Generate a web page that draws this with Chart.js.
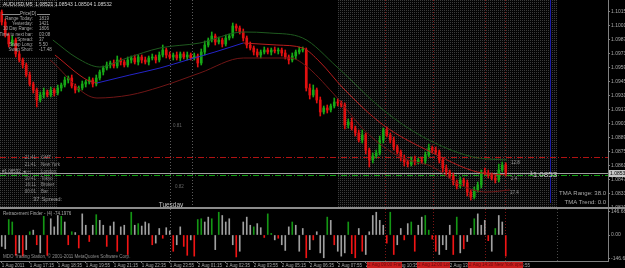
<!DOCTYPE html>
<html>
<head>
<meta charset="utf-8">
<script src="https://cdn.jsdelivr.net/npm/chart.js@4.4.1/dist/chart.umd.min.js"></script>
<style>
  html, body { margin: 0; padding: 0; background: #000; }
  #wrap { position: relative; width: 625px; height: 268px; background: #000; overflow: hidden; }
  #wrap canvas { position: absolute; left: 0; }
</style>
</head>
<body>
<div id="wrap">
  <canvas id="main" width="625" height="209" style="top:0;width:625px;height:209px"></canvas>
  <canvas id="sub" width="625" height="59" style="top:209px;width:625px;height:59px"></canvas>
</div>
<script>
// AUDUSD M5 candles (one entry per drawn bar)
const firstOpen = 1.10142;
const closes = [
  1.10042, 1.09912, 1.09822, 1.09862, 1.09722, 1.09662, 1.09612, 1.09512, 1.09422, 1.09362,
  1.09262, 1.09312, 1.09342, 1.09312, 1.09362, 1.09332, 1.09382, 1.09412, 1.09462, 1.09482,
  1.09402, 1.09362, 1.09382, 1.09422, 1.09442, 1.09462, 1.09422, 1.09482, 1.09542, 1.09582,
  1.09612, 1.09632, 1.09602, 1.09662, 1.09642, 1.09612, 1.09662, 1.09682, 1.09642, 1.09692,
  1.09662, 1.09642, 1.09682, 1.09692, 1.09662, 1.09712, 1.09762, 1.09712, 1.09692, 1.09712,
  1.09682, 1.09722, 1.09692, 1.09712, 1.09682, 1.09702, 1.09632, 1.09742, 1.09812, 1.09862,
  1.09902, 1.09842, 1.09862, 1.09822, 1.09882, 1.09902, 1.10002, 1.09982, 1.09942, 1.09882,
  1.09812, 1.09782, 1.09742, 1.09712, 1.09742, 1.09762, 1.09742, 1.09762, 1.09752, 1.09762,
  1.09732, 1.09692, 1.09662, 1.09702, 1.09742, 1.09762, 1.09762, 1.09382, 1.09312, 1.09362,
  1.09262, 1.09142, 1.09182, 1.09162, 1.09202, 1.09242, 1.09232, 1.09212, 1.09012, 1.09042,
  1.08982, 1.08932, 1.08862, 1.08912, 1.08762, 1.08662, 1.08702, 1.08732, 1.08862, 1.08962,
  1.08912, 1.08862, 1.08792, 1.08742, 1.08682, 1.08642, 1.08622, 1.08662, 1.08642, 1.08662,
  1.08652, 1.08712, 1.08782, 1.08762, 1.08742, 1.08662, 1.08582, 1.08542, 1.08502, 1.08442,
  1.08402, 1.08462, 1.08432, 1.08342, 1.08292, 1.08362, 1.08412, 1.08542, 1.08532, 1.08512,
  1.08482, 1.08462, 1.08562, 1.08612, 1.08532
];
// wick lengths in pips above / below the body
const wickUp = [
  2, 3, 2, 4, 2, 3, 2, 2, 3, 2,   2, 3, 4, 2, 3, 2, 3, 2, 3, 2,
  3, 2, 2, 3, 2, 3, 2, 3, 2, 2,   3, 2, 3, 4, 2, 2, 3, 2, 3, 2,
  2, 3, 2, 3, 2, 3, 5, 2, 3, 2,   3, 2, 2, 3, 2, 3, 2, 3, 4, 2,
  4, 2, 3, 2, 3, 2, 3, 2, 2, 3,   2, 3, 2, 3, 2, 3, 2, 2, 3, 2,
  2, 3, 2, 3, 2, 3, 3, 2, 4, 5,   2, 3, 2, 3, 2, 4, 3, 2, 2, 3,
  4, 2, 3, 5, 2, 2, 3, 3, 4, 2,   3, 2, 3, 2, 2, 3, 2, 3, 4, 2,
  3, 3, 4, 2, 3, 2, 2, 3, 2, 3,   2, 3, 2, 3, 2, 3, 3, 2, 4, 3,
  2, 3, 6, 3, 2
];
const wickDn = [
  3, 2, 3, 2, 3, 2, 3, 2, 2, 3,   7, 2, 3, 2, 2, 3, 2, 3, 2, 3,
  2, 3, 2, 2, 3, 2, 3, 2, 2, 3,   2, 3, 2, 2, 3, 2, 2, 3, 2, 3,
  3, 2, 3, 2, 3, 2, 2, 3, 2, 3,   2, 3, 2, 3, 2, 2, 4, 2, 3, 2,
  2, 3, 2, 3, 2, 2, 2, 3, 2, 3,   3, 2, 3, 2, 3, 2, 2, 3, 2, 3,
  3, 2, 4, 2, 3, 2, 2, 3, 4, 2,   3, 4, 2, 3, 2, 2, 3, 2, 4, 3,
  2, 3, 2, 3, 4, 7, 3, 2, 2, 3,   2, 3, 3, 2, 3, 4, 3, 2, 3, 2,
  2, 3, 2, 3, 2, 3, 4, 3, 2, 3,   3, 2, 3, 4, 3, 2, 2, 3, 2, 3,
  2, 3, 2, 2, 3
];

// Retracement Finder histogram, g = green, r = red, s = silver
const histVals = [
  -70, -85, 95, 80, -125, -110, -130, -90, 20, 30,
  -60, -110, 115, -125, 100, 50, 120, 115, 80, -60,
  20, 15, -80, 130, 60, -40, 60, 125, 90, 60,
  -70, 55, 80, -100, 50, 60, -120, 140, 60, 70,
  55, 80, 70, -60, -50, 40, -20, 45, 25, -100,
  -60, 50, -70, -125, -30, -130, 95, 100, 80, 110,
  100, -90, 140, 120, 80, 100, -60, -135, -100, 80,
  110, 60, 50, 70, 45, -15, 130, 10, -30, -20,
  -60, -95, 50, 80, 60, -100, 40, -140, -90, -30,
  20, -110, -140, 110, 90, -60, -100, -130, -110, 80,
  -115, -140, 40, -100, -120, 20, 120, 140, 90, 60,
  -50, 140, -120, -60, 40, -30, 70, 80, -100, 60,
  110, 120, 30, -25, -100, -120, -60, -90, 60, -120,
  110, -110, -85, -40, 40, 100, 130, 60, 90, -35,
  -100, 40, 120, 80, -130
];
const histCols =
  'ssggrsrsgs' + 'rsgrsssgsr' + 'gsrssrsgss' + 'rssrssrgsg' + 'sssrssrssr' +
  'ssrrsrggss' + 'gsgssssrss' + 'ssgssrggsr' + 'sssgsssrsr' + 'sssgsrsssg' +
  'rrsrssssss' + 'rgrssrsgrs' + 'sggrrssssr' + 'gsrssgsssr' + 'sgssr';

// TMA bands: [bar index, price]
const upperBand = [[14.6, 1.09862], [21.5, 1.09682], [28, 1.09592], [35.8, 1.09682], [45.2, 1.09782],
  [56.6, 1.09832], [69, 1.09942], [76.6, 1.09932], [86, 1.09882], [95.8, 1.09592], [109, 1.09162],
  [120.4, 1.08892], [134.6, 1.08692], [144.4, 1.08662]];
const centerDownA = [[15.2, 1.09712], [24.4, 1.09462], [27.2, 1.09432]];
const centerUp = [[27.2, 1.09432], [36.6, 1.09512], [45.2, 1.09582], [53, 1.09662], [60.9, 1.09742], [69, 1.09832]];
const centerDownB = [[69, 1.09832], [78.6, 1.09812], [86, 1.09782], [90.9, 1.09642], [97.5, 1.09382],
  [109, 1.09012], [123.2, 1.08732], [135.8, 1.08542], [144.4, 1.08512]];
const lowerBand = [[13.8, 1.09662], [27.2, 1.09282], [36.6, 1.09312], [45.2, 1.09392], [56.6, 1.09532],
  [69, 1.09682], [82.4, 1.09682], [86.6, 1.09612], [94.6, 1.09332], [104.4, 1.08932], [113.8, 1.08692],
  [123.2, 1.08592], [131, 1.08412], [138.6, 1.08342], [145.2, 1.08362]];

const priceTicks = [1.10150, 1.10010, 1.09870, 1.09730, 1.09590, 1.09450, 1.09310, 1.09170,
  1.09030, 1.08890, 1.08750, 1.08610, 1.08470, 1.08330, 1.08190];
const histTicks = [146.688, 0, -146.688];
const timeLabels = ['1 Aug 2011', '1 Aug 17:15', '1 Aug 18:35', '1 Aug 19:55', '1 Aug 21:15', '1 Aug 22:35',
  '1 Aug 23:55', '2 Aug 01:15', '2 Aug 02:35', '2 Aug 03:55', '2 Aug 05:15', '2 Aug 06:35', '2 Aug 07:55',
  '2 Aug 09:15', '2 Aug 10:35', '2 Aug 11:55', '2 Aug 13:15', '2 Aug 14:35', '2 Aug 15:55'];
const barsPerLabel = 8;

const bid = 1.08532;
const redLevel = 1.08692;
const greenLevel = 1.08512;
const shadeBars = [[-0.5, 15.8], [96.1, 158.6]];
const grayMarks = [48.1, 54.4];
const redMarks = [109.5, 123.2, 138.1, 143.8];
const blueMark = 156.6;
const sessionBoxes = [[104.4, 114.4, '2 Aug 09:00 Frankfurt'], [118.6, 128, '2 Aug 12:00 London'], [133.2, 148.9, '2 Aug 14:30 New York open']];

const priceInfo = [['Range Today:', '1819'], ['Yesterday:', '1421'], ['10 Day Range:', '1806'],
  ['Time to next bar:', '03:08'], ['Spread:', '37'], ['Swap Long:', '5.50'], ['Swap Short:', '-17.48']];
const sessions = [['21:41', 'GMT'], ['21:41', 'New York'], ['', 'London'], ['10:41', 'Tokyo'], ['16:11', 'Broker'], ['00:01', 'Bar']];

// ---- derived series ----
const opens = closes.map((c, i) => (i === 0 ? firstOpen : closes[i - 1]));
const PIP = 0.0001;
const UP = '#16a816', DOWN = '#e01010';
const candleCols = closes.map((c, i) => (c >= opens[i] ? UP : DOWN));
const bodies = closes.map((c, i) => ({ x: i, y: [opens[i], c] }));
const wicks = closes.map((c, i) => ({
  x: i,
  y: [Math.min(opens[i], c) - wickDn[i] * PIP, Math.max(opens[i], c) + wickUp[i] * PIP]
}));
const histColMap = { g: '#149614', r: '#f01414', s: '#a0a0a0' };
const hist = histVals.map((v, i) => ({ x: i, y: v }));
const histColors = histCols.split('').map(k => histColMap[k]);
const pts = arr => arr.map(([x, y]) => ({ x, y }));

const X_MIN = -0.5, X_MAX = 173.21;
const FONT = "'Liberation Sans', Arial, sans-serif";

function dotPattern(ctx) {
  const c = document.createElement('canvas');
  c.width = 2; c.height = 2;
  const g = c.getContext('2d');
  g.fillStyle = '#050505'; g.fillRect(0, 0, 2, 2);
  g.fillStyle = '#3c3c3c'; g.fillRect(0, 0, 1, 1);
  return ctx.createPattern(c, 'repeat');
}

function vline(ctx, px, top, bottom, color, dash) {
  ctx.strokeStyle = color;
  ctx.setLineDash(dash || []);
  ctx.beginPath();
  ctx.moveTo(Math.round(px) + 0.5, top);
  ctx.lineTo(Math.round(px) + 0.5, bottom);
  ctx.stroke();
}
function hline(ctx, py, left, right, color, dash) {
  ctx.strokeStyle = color;
  ctx.setLineDash(dash || []);
  ctx.beginPath();
  ctx.moveTo(left, Math.round(py) + 0.5);
  ctx.lineTo(right, Math.round(py) + 0.5);
  ctx.stroke();
}
function text(ctx, s, x, y, size, color, align) {
  ctx.font = size + 'px ' + FONT;
  ctx.fillStyle = color;
  ctx.textAlign = align || 'left';
  ctx.textBaseline = 'middle';
  ctx.fillText(s, x, y);
}

const rightAxis = (ticks, fmt, min, max) => ({
  position: 'right',
  min, max,
  afterBuildTicks: s => { s.ticks = ticks.map(v => ({ value: v })); },
  afterFit: s => { s.width = 17; s.paddingTop = 0; s.paddingBottom = 0; },
  grid: { display: true, drawOnChartArea: false, tickLength: 2, color: '#808080' },
  border: { display: true, color: '#808080' },
  ticks: { color: '#a8a8a8', font: { family: FONT, size: 5 }, padding: 1, callback: fmt }
});

const mainDecor = {
  id: 'mainDecor',
  beforeDraw(chart) {
    const ctx = chart.ctx;
    ctx.save();
    ctx.fillStyle = '#000';
    ctx.fillRect(0, 0, chart.width, chart.height);
    ctx.restore();
  },
  beforeDatasetsDraw(chart) {
    const { ctx, chartArea: a, scales: { x, y } } = chart;
    ctx.save();
    ctx.fillStyle = dotPattern(ctx);
    shadeBars.forEach(([f, t]) => {
      const x0 = Math.round(x.getPixelForValue(f)), x1 = Math.round(x.getPixelForValue(t));
      ctx.fillRect(x0, a.top, x1 - x0, a.bottom - a.top);
    });
    ctx.fillStyle = '#000';
    ctx.fillRect(0, 8, 57, 49);
    ctx.lineWidth = 1;
    grayMarks.forEach(v => vline(ctx, x.getPixelForValue(v), a.top, a.bottom, '#5c5c5c', [1, 2]));
    redMarks.forEach(v => vline(ctx, x.getPixelForValue(v), a.top, a.bottom, '#7c1616', [1, 2]));
    vline(ctx, x.getPixelForValue(blueMark), a.top, a.bottom - 5, '#1c1ca8');
    hline(ctx, y.getPixelForValue(redLevel), a.left, a.right, '#b01212', [6, 2, 1, 2]);
    hline(ctx, y.getPixelForValue(greenLevel), a.left, a.right, '#12a012', [6, 2, 1, 2]);
    hline(ctx, y.getPixelForValue(bid), a.left, a.right, '#a0a0a0');
    ctx.restore();
  },
  afterDatasetsDraw(chart) {
    const { ctx, scales: { y } } = chart;
    ctx.save();
    text(ctx, 'AUDUSD,M5  1.08521 1.08543 1.08504 1.08532', 3, 5, 5, '#d8d8d8');
    // price info panel
    hline(ctx, 14, 2, 20, '#8a8a8a');
    hline(ctx, 14, 37, 50, '#8a8a8a');
    text(ctx, 'Price[D]', 28, 14, 4.5, '#b0b0b0', 'center');
    priceInfo.forEach(([k, v], i) => {
      const yy = 19 + i * 5.1;
      text(ctx, k, 33, yy, 4.5, '#a8a8a8', 'right');
      text(ctx, v, 39, yy, 4.5, '#a8a8a8');
    });
    // session clock
    sessions.forEach(([t, n], i) => {
      const yy = 158 + i * 6.8;
      if (t) text(ctx, t, 36, yy, 4.5, '#8c8c8c', 'right');
      text(ctx, n, 41, yy, 4.5, '#8c8c8c');
    });
    text(ctx, '#1.08532 \u25c4\u2014', 2, 172, 4.5, '#a0a0a0');
    text(ctx, '37 Spread:', 33, 199, 6, '#9a9a9a');
    text(ctx, '0.81', 173, 126, 4.5, '#666');
    text(ctx, '0.82', 175, 187, 4.5, '#666');
    text(ctx, 'Tuesday', 171, 205, 6.5, '#c4c4c4', 'center');
    text(ctx, '12.8', 511, 163, 4.5, '#9a9a9a');
    text(ctx, '2.4', 511, 179, 4.5, '#9a9a9a');
    text(ctx, '17.4', 510, 193, 4.5, '#9a9a9a');
    text(ctx, '\u00b91.0853', 530, 175, 8, '#c8c8c8');
    text(ctx, 'TMA Range: 38.0', 606, 193, 6, '#a8a8a8', 'right');
    text(ctx, 'TMA Trend: 0.0', 606, 202, 6, '#a8a8a8', 'right');
    // bid marker on the price axis
    const by = Math.round(y.getPixelForValue(bid));
    ctx.fillStyle = '#c8c8c8';
    ctx.fillRect(609, by - 3, 16, 7);
    text(ctx, bid.toFixed(5), 610, by + 0.5, 5, '#000');
    // window separator
    ctx.fillStyle = '#8c8c8c';
    ctx.fillRect(0, 207, 625, 2);
    ctx.restore();
  }
};

new Chart(document.getElementById('main'), {
  type: 'bar',
  data: {
    datasets: [
      { type: 'line', data: pts(upperBand), borderColor: '#1f5a1f', order: 1 },
      { type: 'line', data: pts(lowerBand), borderColor: '#701616', order: 1 },
      { type: 'line', data: pts(centerDownA), borderColor: '#b81c1c', order: 1 },
      { type: 'line', data: pts(centerUp), borderColor: '#2424c8', order: 1 },
      { type: 'line', data: pts(centerDownB), borderColor: '#b81c1c', order: 1 },
      { data: wicks, backgroundColor: candleCols, barThickness: 1, order: 3 },
      { data: bodies, backgroundColor: candleCols, barThickness: 2, minBarLength: 1, order: 2 }
    ]
  },
  options: {
    responsive: false,
    devicePixelRatio: 1,
    animation: false,
    layout: { padding: { top: 0, bottom: 1, left: 0, right: 0 } },
    datasets: {
      bar: { grouped: false, borderWidth: 0 },
      line: { borderWidth: 1, pointRadius: 0, tension: 0.4, cubicInterpolationMode: 'monotone' }
    },
    plugins: { legend: { display: false }, tooltip: { enabled: false } },
    scales: {
      x: { type: 'linear', min: X_MIN, max: X_MAX, offset: false, display: false },
      y: rightAxis(priceTicks, v => v.toFixed(5), 1.08182, 1.10262)
    }
  },
  plugins: [mainDecor]
});

const subDecor = {
  id: 'subDecor',
  beforeDraw(chart) {
    const ctx = chart.ctx;
    ctx.save();
    ctx.fillStyle = '#000';
    ctx.fillRect(0, 0, chart.width, chart.height);
    ctx.restore();
  },
  beforeDatasetsDraw(chart) {
    const { ctx, chartArea: a, scales: { x } } = chart;
    ctx.save();
    ctx.lineWidth = 1;
    vline(ctx, x.getPixelForValue(grayMarks[0]), a.top, a.bottom, '#5c5c5c', [1, 2]);
    redMarks.forEach(v => vline(ctx, x.getPixelForValue(v), a.top, a.bottom, '#7c1616', [1, 2]));
    vline(ctx, x.getPixelForValue(shadeBars[1][1]), a.top, a.bottom, '#4a4a4a', [1, 2]);
    ctx.restore();
  },
  afterDraw(chart) {
    const { ctx, chartArea: a, scales: { x } } = chart;
    ctx.save();
    text(ctx, 'Retracement Finder - (4) -74.1976', 3, 5, 4.5, '#a8a8a8');
    text(ctx, 'MDO Trading Station, \u00a9 2001-2011 MetaQuotes Software Corp.', 3, 48, 4.5, '#909090');
    sessionBoxes.forEach(([f, t, s]) => {
      const x0 = Math.round(x.getPixelForValue(f)), x1 = Math.round(x.getPixelForValue(t));
      ctx.fillStyle = '#c81c1c';
      ctx.fillRect(x0, a.bottom + 1, x1 - x0, 6);
      ctx.save();
      ctx.beginPath(); ctx.rect(x0, a.bottom + 1, x1 - x0, 6); ctx.clip();
      text(ctx, s, x0 + 1, a.bottom + 4, 4.5, '#6a0c0c');
      ctx.restore();
    });
    ctx.restore();
  }
};

new Chart(document.getElementById('sub'), {
  type: 'bar',
  data: { datasets: [{ data: hist, backgroundColor: histColors, barThickness: 1, borderWidth: 0 }] },
  options: {
    responsive: false,
    devicePixelRatio: 1,
    animation: false,
    layout: { padding: 0 },
    plugins: { legend: { display: false }, tooltip: { enabled: false } },
    scales: {
      x: {
        type: 'linear', min: X_MIN, max: X_MAX, offset: false,
        afterBuildTicks: s => { s.ticks = timeLabels.map((_, k) => ({ value: k * barsPerLabel })); },
        afterFit: s => { s.height = 7; s.paddingLeft = 0; s.paddingRight = 0; },
        grid: { display: true, drawOnChartArea: false, offset: false, tickLength: 2, color: '#808080' },
        border: { display: true, color: '#808080' },
        ticks: {
          autoSkip: false, maxRotation: 0, minRotation: 0, align: 'start', padding: 0,
          color: '#a8a8a8', font: { family: FONT, size: 4.5 },
          callback: (v, i) => timeLabels[i]
        }
      },
      y: rightAxis(histTicks, v => (v === 0 ? '0.00' : v.toFixed(3)), -160, 160)
    }
  },
  plugins: [subDecor]
});
</script>
</body>
</html>
